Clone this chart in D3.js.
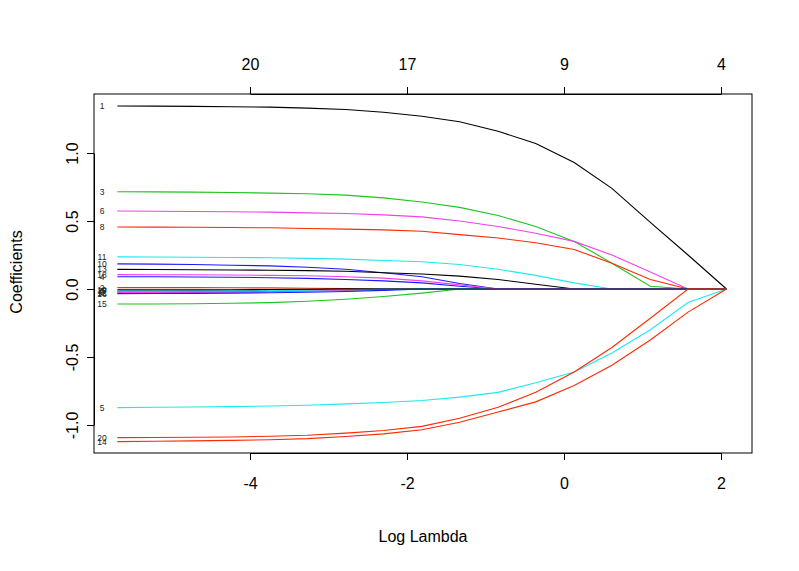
<!DOCTYPE html>
<html><head><meta charset="utf-8">
<script src="https://cdn.jsdelivr.net/npm/d3@7"></script>
<style>body{margin:0;background:#fff}text{font-family:"Liberation Sans",Arial,sans-serif}</style>
</head><body><div class="main"></div>
<script>
// log lambda grid, right (large lambda) to left
const logLambda = [2.07,1.58,1.10,0.61,0.13,-0.36,-0.84,-1.33,-1.81,-2.30,-2.78,-3.27,-3.75,-4.24,-4.72,-5.21,-5.69];
const dfTicks = [-4,-2,0,2];
const dfLabels = ["20","17","9","4"];
const yTicks = [-1,-0.5,0,0.5,1];

// coefficient paths, one per variable
const paths = {
  1:  [0,0.25,0.49,0.74,0.93,1.07,1.16,1.23,1.27,1.30,1.32,1.33,1.337,1.34,1.343,1.345,1.346],
  2:  [0,0,0,0,0,0,0,0,0,0,0.003,0.006,0.008,0.009,0.01,0.01,0.01],
  3:  [0,0,0.02,0.19,0.35,0.46,0.54,0.60,0.64,0.67,0.69,0.70,0.705,0.71,0.712,0.714,0.715],
  4:  [0,0,0,0,0,0,0,0.02,0.045,0.06,0.07,0.078,0.083,0.086,0.088,0.09,0.09],
  5:  [0,-0.10,-0.30,-0.47,-0.61,-0.69,-0.76,-0.795,-0.82,-0.835,-0.845,-0.855,-0.86,-0.865,-0.868,-0.87,-0.872],
  6:  [0,0,0.125,0.25,0.35,0.41,0.46,0.50,0.53,0.545,0.555,0.56,0.565,0.568,0.57,0.572,0.573],
  7:  [0,0,0,0,0,0,0,0,0,0,0,-0.005,-0.01,-0.012,-0.014,-0.015,-0.015],
  8:  [0,0,0.07,0.19,0.29,0.34,0.375,0.40,0.425,0.435,0.44,0.445,0.45,0.452,0.454,0.455,0.456],
  9:  [0,0,0,0,0,0,0,0,0,-0.005,-0.01,-0.014,-0.017,-0.019,-0.02,-0.02,-0.021],
  10: [0,0,0,0,0,0,0,0.04,0.09,0.12,0.145,0.16,0.17,0.175,0.18,0.183,0.185],
  11: [0,0,0,0,0.045,0.10,0.145,0.18,0.20,0.21,0.22,0.225,0.23,0.232,0.234,0.235,0.236],
  12: [0,0,0,0,0,0,0,0,0,0,-0.008,-0.015,-0.02,-0.023,-0.025,-0.026,-0.027],
  13: [0,0,0,0,0,0.035,0.07,0.095,0.11,0.12,0.13,0.135,0.138,0.14,0.142,0.143,0.144],
  14: [0,-0.17,-0.375,-0.56,-0.71,-0.83,-0.905,-0.98,-1.035,-1.065,-1.085,-1.10,-1.108,-1.113,-1.117,-1.12,-1.122],
  15: [0,0,0,0,0,0,0,0,-0.03,-0.055,-0.075,-0.09,-0.10,-0.105,-0.108,-0.11,-0.11],
  16: [0,0,0,0,0,0,0,0,0,-0.01,-0.018,-0.024,-0.028,-0.03,-0.032,-0.033,-0.034],
  17: [0,0,0,0,0,0,0,0,0,0,-0.004,-0.008,-0.01,-0.012,-0.013,-0.014,-0.014],
  18: [0,0,0,0,0,0,0,0.03,0.06,0.08,0.09,0.097,0.10,0.103,0.105,0.105,0.106],
  19: [0,0,0,0,0,0,0,0,0,0,0,-0.002,-0.004,-0.005,-0.005,-0.006,-0.006],
  20: [0,0,-0.215,-0.43,-0.61,-0.76,-0.87,-0.95,-1.01,-1.04,-1.06,-1.075,-1.083,-1.088,-1.09,-1.092,-1.093]
};
const palette = ["#000000","#ff2a00","#1ec51e","#1a1aff","#1ee8f0","#f040f0"];

const svg = d3.select(".main").append("svg").attr("width",799).attr("height",571);
const x = d3.scaleLinear().domain([-4,2]).range([250,721]);
const y = d3.scaleLinear().domain([-1,1]).range([425,153]);

const line = d3.line().x((d,i)=>x(logLambda[i])).y(d=>y(d));
Object.keys(paths).forEach(k=>{
  svg.append("path").attr("d",line(paths[k])).attr("fill","none")
     .attr("stroke",palette[(k-1)%6]).attr("stroke-width",1.1);
});

// box
svg.append("rect").attr("x",94).attr("y",94).attr("width",658).attr("height",359)
   .attr("fill","none").attr("stroke","#000").attr("stroke-width",1);

// bottom axis
svg.append("g").attr("transform","translate(0,453)")
  .call(d3.axisBottom(x).tickValues(dfTicks).tickSize(7).tickSizeOuter(0).tickFormat(d=>d<0?"-"+Math.abs(d):d))
  .call(g=>{g.selectAll("text").attr("font-size",16).attr("dy","1.6em").attr("font-family","Liberation Sans,Arial");});
// top axis
svg.append("g").attr("transform","translate(0,94)")
  .call(d3.axisTop(x).tickValues(dfTicks).tickSize(7).tickSizeOuter(0).tickFormat((d,i)=>dfLabels[i]))
  .call(g=>{g.selectAll("text").attr("font-size",16).attr("dy","-0.9em").attr("font-family","Liberation Sans,Arial");});
// left axis, labels rotated like R
svg.append("g").attr("transform","translate(94,0)")
  .call(d3.axisLeft(y).tickValues(yTicks).tickSize(7).tickSizeOuter(0).tickFormat(d=>d<0?"-"+d3.format(".1f")(-d):d3.format(".1f")(d)))
  .call(g=>{g.selectAll("text").attr("font-size",16).attr("font-family","Liberation Sans,Arial")
     .attr("text-anchor","middle").attr("x",0).attr("y",0).attr("dy","0")
     .attr("transform","translate(-16,0) rotate(-90)");});
svg.selectAll(".domain").attr("stroke","#000");

// variable labels
Object.keys(paths).forEach(k=>{
  const v = paths[k];
  svg.append("text").attr("x",102).attr("y",y(v[v.length-1])+3)
     .attr("text-anchor","middle").attr("font-size",8.5).attr("fill","#222").text(k);
});

svg.append("text").attr("x",423).attr("y",542).attr("text-anchor","middle").attr("font-size",16).text("Log Lambda");
svg.append("text").attr("transform","translate(22,272) rotate(-90)").attr("text-anchor","middle").attr("font-size",16).text("Coefficients");
</script></body></html>
